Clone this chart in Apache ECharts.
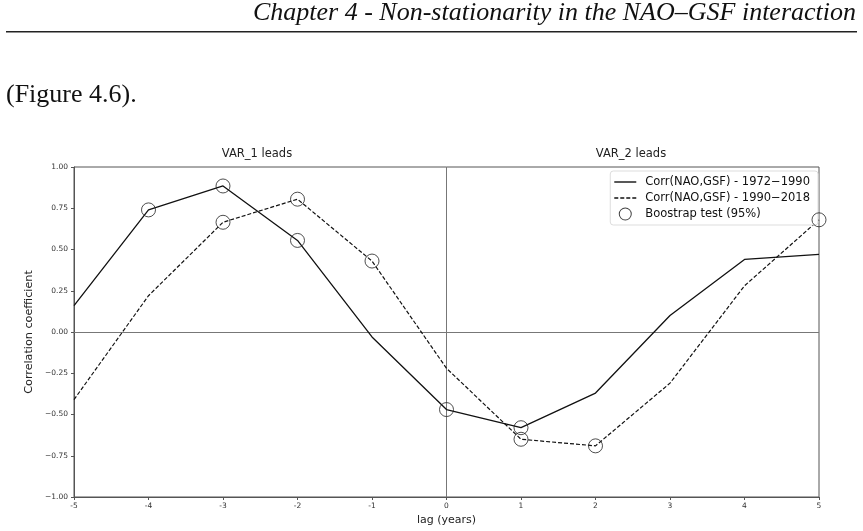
<!DOCTYPE html>
<html>
<head>
<meta charset="utf-8">
<script src="https://cdn.jsdelivr.net/npm/echarts@6/dist/echarts.min.js"></script>
<style>
  html, body { margin: 0; padding: 0; background: #fff; }
  #main { width: 863px; height: 531px; }
</style>
</head>
<body>
<div id="main"></div>
<script>
// lags (years) and correlations
var lags = [-5, -4, -3, -2, -1, 0, 1, 2, 3, 4, 5];
var corrEarly = [0.16, 0.74, 0.885, 0.555, -0.03, -0.47, -0.58, -0.37, 0.10, 0.44, 0.47];
var corrLate = [-0.41, 0.22, 0.665, 0.805, 0.43, -0.22, -0.65, -0.69, -0.31, 0.28, 0.68];
// lags where the bootstrap test is significant (95%)
var sigEarly = [-4, -3, -2, 0, 1];
var sigLate = [-3, -2, -1, 1, 2, 5];

var nameEarly = 'Corr(NAO,GSF) - 1972\u22121990';
var nameLate = 'Corr(NAO,GSF) - 1990\u22122018';
var nameSig = 'Boostrap test (95%)';

function pairs(vals) {
    var out = [];
    for (var i = 0; i < lags.length; i++) {
        out.push([lags[i], vals[i]]);
    }
    return out;
}

function sigPoints() {
    var out = [];
    for (var i = 0; i < sigEarly.length; i++) {
        out.push([sigEarly[i], corrEarly[lags.indexOf(sigEarly[i])]]);
    }
    for (var j = 0; j < sigLate.length; j++) {
        out.push([sigLate[j], corrLate[lags.indexOf(sigLate[j])]]);
    }
    return out;
}

// legend handles, 26x14 box (first two moves only fix the box)
var iconSolid = 'path://M0,0 M26,14 M0,6.3 H22 V7.7 H0 Z';
var iconDash = 'path://M0,0 M26,14 M0,6.3 H4 V7.7 H0 Z M6,6.3 H10 V7.7 H6 Z M12,6.3 H16 V7.7 H12 Z M18,6.3 H22 V7.7 H18 Z';
var iconRing = 'path://M0,0 M26,14 M17.5,7 A6.5,6.5 0 1,1 4.5,7 A6.5,6.5 0 1,1 17.5,7 Z M16.5,7 A5.5,5.5 0 1,0 5.5,7 A5.5,5.5 0 1,0 16.5,7 Z';

var font = 'DejaVu Sans';
var chart = echarts.init(document.getElementById('main'));

var option = {
    animation: false,
    backgroundColor: '#fff',
    graphic: [
        {
            type: 'text', right: 7, top: 0,
            style: {
                text: 'Chapter 4 - Non-stationarity in the NAO\u2013GSF interaction',
                font: 'italic 26px "Liberation Serif"', fill: '#111'
            }
        },
        {
            type: 'rect', shape: {x: 6, y: 31, width: 851, height: 1.5},
            style: {fill: '#222'}
        },
        {
            type: 'text', left: 6, top: 82,
            style: {text: '(Figure 4.6).', font: '26px "Liberation Serif"', fill: '#111'}
        },
        {
            type: 'text', x: 257, y: 148,
            style: {text: 'VAR_1 leads', font: '11.5px "DejaVu Sans"', fill: '#222', align: 'center'}
        },
        {
            type: 'text', x: 631, y: 148,
            style: {text: 'VAR_2 leads', font: '11.5px "DejaVu Sans"', fill: '#222', align: 'center'}
        }
    ],
    grid: {
        left: 74, right: 44, top: 167, bottom: 34,
        show: true, borderColor: '#555', borderWidth: 1
    },
    legend: {
        right: 45, top: 171,
        orient: 'vertical',
        itemWidth: 26, itemHeight: 14, itemGap: 2,
        padding: [4, 8, 4, 4],
        backgroundColor: '#fff',
        borderColor: '#ddd', borderWidth: 1, borderRadius: 3,
        textStyle: {fontFamily: font, fontSize: 11.5, color: '#111'},
        data: [
            {name: nameEarly, icon: iconSolid},
            {name: nameLate, icon: iconDash},
            {name: nameSig, icon: iconRing, itemStyle: {color: '#111', borderWidth: 0}}
        ]
    },
    xAxis: {
        type: 'value', min: -5, max: 5, interval: 1,
        name: 'lag (years)', nameLocation: 'middle', nameGap: 17,
        nameTextStyle: {fontFamily: font, fontSize: 11, color: '#222'},
        axisLine: {show: true, onZero: false, lineStyle: {color: '#555'}},
        axisTick: {show: true, length: 3, lineStyle: {color: '#555'}},
        axisLabel: {fontFamily: font, fontSize: 7.5, color: '#333', margin: 5},
        splitLine: {show: false}
    },
    yAxis: {
        type: 'value', min: -1, max: 1, interval: 0.25,
        name: 'Correlation coefficient', nameLocation: 'middle', nameGap: 29,
        nameTextStyle: {fontFamily: font, fontSize: 11.2, color: '#222'},
        axisLine: {show: true, onZero: false, lineStyle: {color: '#555'}},
        axisTick: {show: true, length: 3, lineStyle: {color: '#555'}},
        axisLabel: {
            fontFamily: font, fontSize: 7.5, color: '#333', margin: 6,
            formatter: function (v) {
                return v.toFixed(2).replace('-', '\u2212');
            }
        },
        splitLine: {show: false}
    },
    series: [
        {
            name: nameEarly,
            type: 'line',
            data: pairs(corrEarly),
            symbol: 'none',
            lineStyle: {color: '#111', width: 1.3},
            itemStyle: {color: '#111'},
            z: 3,
            markLine: {
                silent: true,
                symbol: 'none',
                label: {show: false},
                lineStyle: {color: '#777', width: 1, type: 'solid'},
                data: [{yAxis: 0}, {xAxis: 0}],
                z: 1
            }
        },
        {
            name: nameLate,
            type: 'line',
            data: pairs(corrLate),
            symbol: 'none',
            lineStyle: {color: '#111', width: 1.2, type: [4, 2]},
            itemStyle: {color: '#111'},
            z: 3
        },
        {
            name: nameSig,
            type: 'scatter',
            data: sigPoints(),
            symbol: 'circle',
            symbolSize: 14,
            itemStyle: {color: 'rgba(0,0,0,0)', borderColor: '#222', borderWidth: 1},
            z: 4
        }
    ]
};

chart.setOption(option);
</script>
</body>
</html>
